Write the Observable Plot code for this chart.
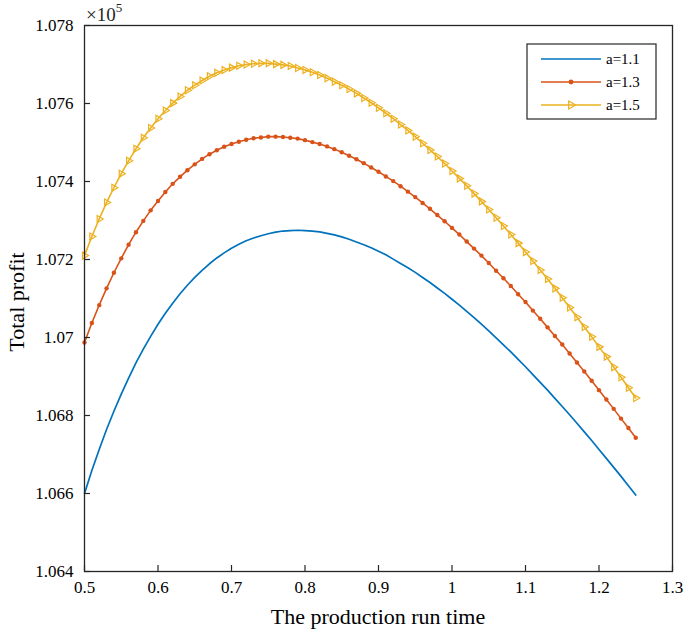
<!DOCTYPE html>
<html><head><meta charset="utf-8">
<script src="https://cdn.jsdelivr.net/npm/d3@7"></script>
<script src="https://cdn.jsdelivr.net/npm/@observablehq/plot@0.6"></script>
<style>
body{margin:0;background:#fff;}
#chart{width:685px;height:636px;}
#chart svg, #chart svg text{font-family:'Liberation Serif','Times New Roman',serif !important;}
</style></head><body><div id="chart"></div>
<script>
// Production run time (x)
const runTime = [0.50,0.51,0.52,0.53,0.54,0.55,0.56,0.57,0.58,0.59,0.60,0.61,0.62,0.63,0.64,0.65,0.66,0.67,0.68,0.69,0.70,0.71,0.72,0.73,0.74,0.75,0.76,0.77,0.78,0.79,0.80,0.81,0.82,0.83,0.84,0.85,0.86,0.87,0.88,0.89,0.90,0.91,0.92,0.93,0.94,0.95,0.96,0.97,0.98,0.99,1.00,1.01,1.02,1.03,1.04,1.05,1.06,1.07,1.08,1.09,1.10,1.11,1.12,1.13,1.14,1.15,1.16,1.17,1.18,1.19,1.20,1.21,1.22,1.23,1.24,1.25];
// Total profit (x 10^5), a = 1.1
const profitA11 = [1.06600,1.06659,1.06713,1.06764,1.06811,1.06855,1.06896,1.06935,1.06970,1.07003,1.07034,1.07062,1.07088,1.07112,1.07134,1.07154,1.07172,1.07189,1.07204,1.07217,1.07229,1.07239,1.07248,1.07255,1.07261,1.07266,1.07270,1.07273,1.07274,1.07275,1.07274,1.07273,1.07271,1.07267,1.07263,1.07258,1.07252,1.07245,1.07238,1.07230,1.07221,1.07212,1.07201,1.07190,1.07179,1.07167,1.07154,1.07141,1.07127,1.07113,1.07098,1.07083,1.07067,1.07051,1.07034,1.07017,1.06999,1.06981,1.06963,1.06944,1.06925,1.06905,1.06885,1.06865,1.06844,1.06823,1.06802,1.06780,1.06758,1.06736,1.06713,1.06690,1.06667,1.06644,1.06620,1.06596];
// a = 1.3
const profitA13 = [1.06987,1.07037,1.07083,1.07126,1.07166,1.07203,1.07238,1.07270,1.07299,1.07326,1.07350,1.07373,1.07394,1.07412,1.07429,1.07444,1.07458,1.07470,1.07480,1.07489,1.07496,1.07502,1.07507,1.07511,1.07513,1.07515,1.07515,1.07514,1.07512,1.07510,1.07506,1.07501,1.07496,1.07490,1.07483,1.07475,1.07466,1.07457,1.07447,1.07436,1.07425,1.07413,1.07401,1.07388,1.07374,1.07360,1.07345,1.07330,1.07314,1.07298,1.07281,1.07264,1.07246,1.07228,1.07210,1.07191,1.07171,1.07152,1.07132,1.07111,1.07091,1.07069,1.07048,1.07026,1.07004,1.06982,1.06959,1.06936,1.06913,1.06889,1.06865,1.06841,1.06817,1.06792,1.06768,1.06743];
// a = 1.5
const profitA15 = [1.07210,1.07259,1.07304,1.07346,1.07384,1.07420,1.07453,1.07484,1.07512,1.07537,1.07561,1.07582,1.07601,1.07618,1.07634,1.07647,1.07659,1.07670,1.07679,1.07686,1.07692,1.07697,1.07700,1.07702,1.07703,1.07703,1.07701,1.07699,1.07696,1.07691,1.07686,1.07680,1.07673,1.07665,1.07656,1.07647,1.07637,1.07626,1.07614,1.07602,1.07589,1.07575,1.07561,1.07546,1.07531,1.07515,1.07498,1.07481,1.07464,1.07446,1.07427,1.07408,1.07389,1.07369,1.07349,1.07328,1.07307,1.07286,1.07264,1.07242,1.07219,1.07196,1.07173,1.07150,1.07126,1.07102,1.07077,1.07052,1.07027,1.07002,1.06976,1.06951,1.06924,1.06898,1.06871,1.06845];
const seriesNames = ["a=1.1","a=1.3","a=1.5"];
const seriesColors = ["#0072BD","#D95319","#EDB120"];
const xTicks = [0.5,0.6,0.7,0.8,0.9,1.0,1.1,1.2,1.3];
const yTicks = [1.064,1.066,1.068,1.070,1.072,1.074,1.076,1.078];
const xLabel = "The production run time";
const yLabel = "Total profit";
const exponent = "5";

const W = 685, H = 636, mL = 84, mR = 13, mT = 25, mB = 65;
const plotW = W - mL - mR, plotH = H - mT - mB;
const FONT = "Liberation Serif";
const fmt = d => String(+d.toFixed(3));
const toRows = ys => runTime.map((t, i) => ({t, p: ys[i]}));
const d11 = toRows(profitA11), d13 = toRows(profitA13), d15 = toRows(profitA15);
const axisColor = "#262626";

const svg = Plot.plot({
  width: W, height: H,
  marginLeft: mL, marginRight: mR, marginTop: mT, marginBottom: mB,
  style: {fontFamily: FONT, fontSize: "17px", color: axisColor, background: "#fff"},
  x: {domain: [xTicks[0], xTicks[xTicks.length - 1]]},
  y: {domain: [yTicks[0], yTicks[yTicks.length - 1]]},
  marks: [
    Plot.line(d11, {x: "t", y: "p", stroke: seriesColors[0], strokeWidth: 1.7}),
    Plot.line(d13, {x: "t", y: "p", stroke: seriesColors[1], strokeWidth: 1.6}),
    Plot.dot(d13, {x: "t", y: "p", r: 2.2, fill: seriesColors[1], stroke: "none"}),
    Plot.line(d15, {x: "t", y: "p", stroke: seriesColors[2], strokeWidth: 1.6}),
    Plot.dot(d15, {x: "t", y: "p", symbol: "triangle", rotate: 90, r: 2.6, fill: "none", stroke: seriesColors[2], strokeWidth: 1.2}),
    Plot.tickX(xTicks, {x: d => d, insetTop: plotH - 6, stroke: axisColor, strokeWidth: 1.2}),
    Plot.tickY(yTicks, {y: d => d, insetRight: plotW - 6, stroke: axisColor, strokeWidth: 1.2}),
    Plot.frame({stroke: axisColor, strokeWidth: 1.3}),
    Plot.axisX({ticks: xTicks, tickSize: 0, tickPadding: 9, tickFormat: fmt, label: null, fontSize: 17, fontFamily: FONT, fill: "#000"}),
    Plot.axisY({ticks: yTicks, tickSize: 0, tickPadding: 11, tickFormat: fmt, label: null, fontSize: 17, fontFamily: FONT, fill: "#000"})
  ]
});
document.getElementById("chart").appendChild(svg);

const s = d3.select(svg);
// axis labels
s.append("text").attr("x", mL + plotW / 2).attr("y", 624)
  .attr("text-anchor", "middle").style("font-size", "22px")
  .attr("fill", "#000").text(xLabel);
s.append("text").attr("transform", `translate(24,${mT + plotH / 2 + 4}) rotate(-90)`)
  .attr("text-anchor", "middle").style("font-size", "22px")
  .attr("fill", "#000").text(yLabel);
// exponent
const ex = s.append("text").attr("x", mL + 2).attr("y", 21).attr("text-anchor", "start")
  .style("font-size", "19px").attr("fill", axisColor);
ex.append("tspan").text("\u00D710");
ex.append("tspan").attr("dy", -9).style("font-size", "13px").text(exponent);

// legend
const lg = s.append("g").style("font-size", "15px").attr("text-anchor", "start");
lg.append("rect").attr("x", 527).attr("y", 44).attr("width", 129).attr("height", 75)
  .attr("fill", "#fff").attr("stroke", axisColor).attr("stroke-width", 1.2);
seriesNames.forEach((name, i) => {
  const y = 59 + i * 23;
  lg.append("line").attr("x1", 541).attr("x2", 601).attr("y1", y).attr("y2", y)
    .attr("stroke", seriesColors[i]).attr("stroke-width", 1.6);
  if (i === 1) lg.append("circle").attr("cx", 571).attr("cy", y).attr("r", 2.4).attr("fill", seriesColors[i]);
  if (i === 2) lg.append("path").attr("d", d3.symbol(d3.symbolTriangle, 28)())
    .attr("transform", `translate(571,${y}) rotate(90)`).attr("fill", "none")
    .attr("stroke", seriesColors[i]).attr("stroke-width", 1.2);
  lg.append("text").attr("x", 606).attr("y", y).attr("dy", "0.35em").attr("text-anchor", "start").attr("fill", "#000").text(name);
});
</script></body></html>
